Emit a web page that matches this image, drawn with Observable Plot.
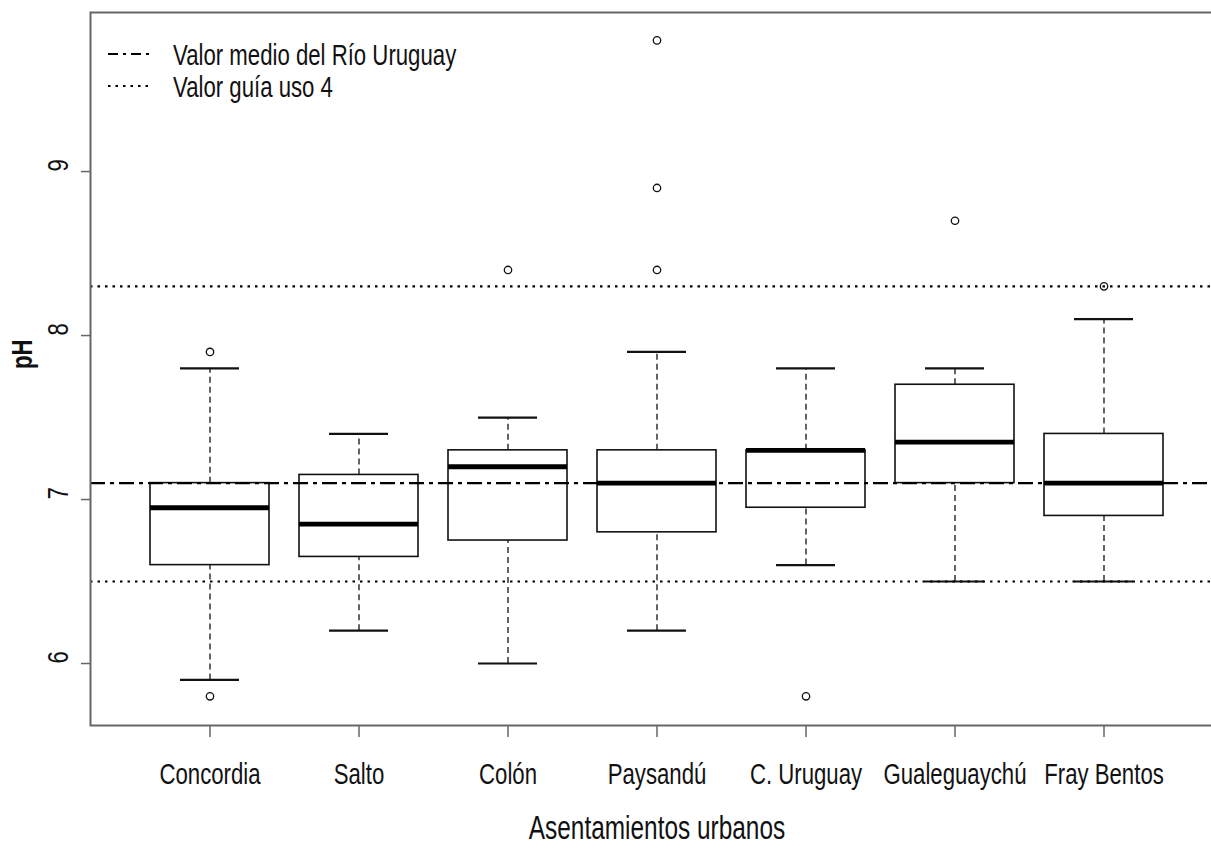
<!DOCTYPE html>
<html>
<head>
<meta charset="utf-8">
<script src="https://cdn.jsdelivr.net/npm/d3@7"></script>
<script src="https://cdn.jsdelivr.net/npm/@observablehq/plot@0.6"></script>
<style>
  body { margin: 0; background: #fff; }
  #wrap { position: relative; width: 1211px; height: 850px; overflow: hidden; background: #fff; }
  #legend { position: absolute; left: 0; top: 0; }
  .lg-text { font-family: "Liberation Sans Narrow", "Arial Narrow", "Liberation Sans", Arial, sans-serif; font-size: 30px; fill: #111; }
</style>
</head>
<body>
<div id="wrap"></div>
<script>
// ---- data ----
const categories = ["Concordia", "Salto", "Colón", "Paysandú", "C. Uruguay", "Gualeguaychú", "Fray Bentos"];
const whiskerLow  = [5.9, 6.2, 6.0, 6.2, 6.6, 6.5, 6.5];
const quartile1   = [6.6, 6.65, 6.75, 6.8, 6.95, 7.1, 6.9];
const medians     = [6.95, 6.85, 7.2, 7.1, 7.3, 7.35, 7.1];
const quartile3   = [7.1, 7.15, 7.3, 7.3, 7.3, 7.7, 7.4];
const whiskerHigh = [7.8, 7.4, 7.5, 7.9, 7.8, 7.8, 8.1];
const outlierSite  = ["Concordia", "Concordia", "Colón", "Paysandú", "Paysandú", "Paysandú", "C. Uruguay", "Gualeguaychú", "Fray Bentos"];
const outlierValue = [7.9, 5.8, 8.4, 8.4, 8.9, 9.8, 5.8, 8.7, 8.3];
const meanRiver = [7.1];
const guideValues = [6.5, 8.3];
const yTicks = [6, 7, 8, 9];
const legendLabels = ["Valor medio del Río Uruguay", "Valor guía uso 4"];
const xTitle = "Asentamientos urbanos";
const yTitle = "pH";

// ---- build ----
const FONT = '"Liberation Sans Narrow", "Arial Narrow", "Liberation Sans", Arial, sans-serif';
const FS = 30;          // font size
const NARROW = 0.74;    // horizontal squeeze to mimic a condensed face
const ink = "#111";
const frameGray = "#666";
const boxes = categories.map((c, i) => ({
  site: c, lo: whiskerLow[i], q1: quartile1[i], med: medians[i], q3: quartile3[i], hi: whiskerHigh[i]
}));
const outliers = outlierSite.map((s, i) => ({site: s, value: outlierValue[i]}));

const chart = Plot.plot({
  width: 1225,
  height: 850,
  marginLeft: 90,
  marginRight: 2,
  marginTop: 12,
  marginBottom: 125,
  style: {fontFamily: FONT, fontSize: FS + "px", color: ink, background: "white", maxWidth: "none", overflow: "visible"},
  x: {type: "band", domain: categories, range: [133.25, 1179.75], paddingInner: 0.2, paddingOuter: 0.1, label: null},
  y: {domain: [5.622, 9.97], label: null},
  marks: [
    Plot.ruleX(boxes, {x: "site", y1: "lo", y2: "q1", stroke: ink, strokeWidth: 1.3, strokeDasharray: "6,4"}),
    Plot.ruleX(boxes, {x: "site", y1: "q3", y2: "hi", stroke: ink, strokeWidth: 1.3, strokeDasharray: "6,4"}),
    Plot.tickY(boxes, {x: "site", y: "lo", insetLeft: 30, insetRight: 30, stroke: ink, strokeWidth: 2.2}),
    Plot.tickY(boxes, {x: "site", y: "hi", insetLeft: 30, insetRight: 30, stroke: ink, strokeWidth: 2.2}),
    Plot.barY(boxes, {x: "site", y1: "q1", y2: "q3", fill: "white", stroke: ink, strokeWidth: 1.6}),
    Plot.tickY(boxes, {x: "site", y: "med", stroke: "#000", strokeWidth: 4.8}),
    Plot.dot(outliers, {x: "site", y: "value", r: 3.7, stroke: ink, strokeWidth: 1.3, fill: "none"}),
    Plot.ruleY(meanRiver, {stroke: "#000", strokeWidth: 2.2, strokeDasharray: "15,5,4,5"}),
    Plot.ruleY(guideValues, {stroke: "#000", strokeWidth: 2.2, strokeDasharray: "2.5,5"}),
    Plot.frame({stroke: frameGray, strokeWidth: 2}),
    Plot.axisX({tickSize: 12, tickPadding: 25, stroke: frameGray, strokeWidth: 1.5, fill: ink, fontSize: FS, label: null}),
    Plot.axisY({ticks: yTicks, tickSize: 9, stroke: frameGray, strokeWidth: 1.5, tickFormat: () => "", label: null}),
    Plot.text(yTicks, {y: d => d, text: d => String(d), frameAnchor: "left", dx: -32, rotate: -90, fontSize: FS, fill: ink}),
    Plot.text([yTitle], {frameAnchor: "left", dx: -68, rotate: -90, fontSize: FS, fontWeight: "bold", fill: ink}),
    Plot.text([xTitle], {frameAnchor: "bottom", dy: 113, fontSize: 33, fill: ink})
  ]
});
const wrap = document.getElementById("wrap");
wrap.appendChild(chart);

// ---- legend (inside plot, top-left) ----
const ns = "http://www.w3.org/2000/svg";
const lg = document.createElementNS(ns, "svg");
lg.setAttribute("id", "legend");
lg.setAttribute("width", 1211);
lg.setAttribute("height", 130);
const dashes = ["10,5,3,5", "2.5,5"];
legendLabels.forEach((lab, i) => {
  const yc = 54 + i * 32;
  const ln = document.createElementNS(ns, "line");
  ln.setAttribute("x1", 108); ln.setAttribute("x2", 152);
  ln.setAttribute("y1", yc); ln.setAttribute("y2", yc);
  ln.setAttribute("stroke", "#000"); ln.setAttribute("stroke-width", 2);
  ln.setAttribute("stroke-dasharray", dashes[i]);
  lg.appendChild(ln);
  const t = document.createElementNS(ns, "text");
  t.setAttribute("x", 173); t.setAttribute("y", yc + 11);
  t.setAttribute("class", "lg-text");
  t.textContent = lab;
  lg.appendChild(t);
});
wrap.appendChild(lg);

// ---- squeeze every text horizontally (in its own reading direction) ----
wrap.querySelectorAll("text").forEach(t => {
  const x = +t.getAttribute("x") || 0;
  const y = +t.getAttribute("y") || 0;
  const prev = t.getAttribute("transform") || "";
  t.setAttribute("transform", `${prev} translate(${x},${y}) scale(${NARROW},1) translate(${-x},${-y})`.trim());
});
</script>
</body>
</html>
